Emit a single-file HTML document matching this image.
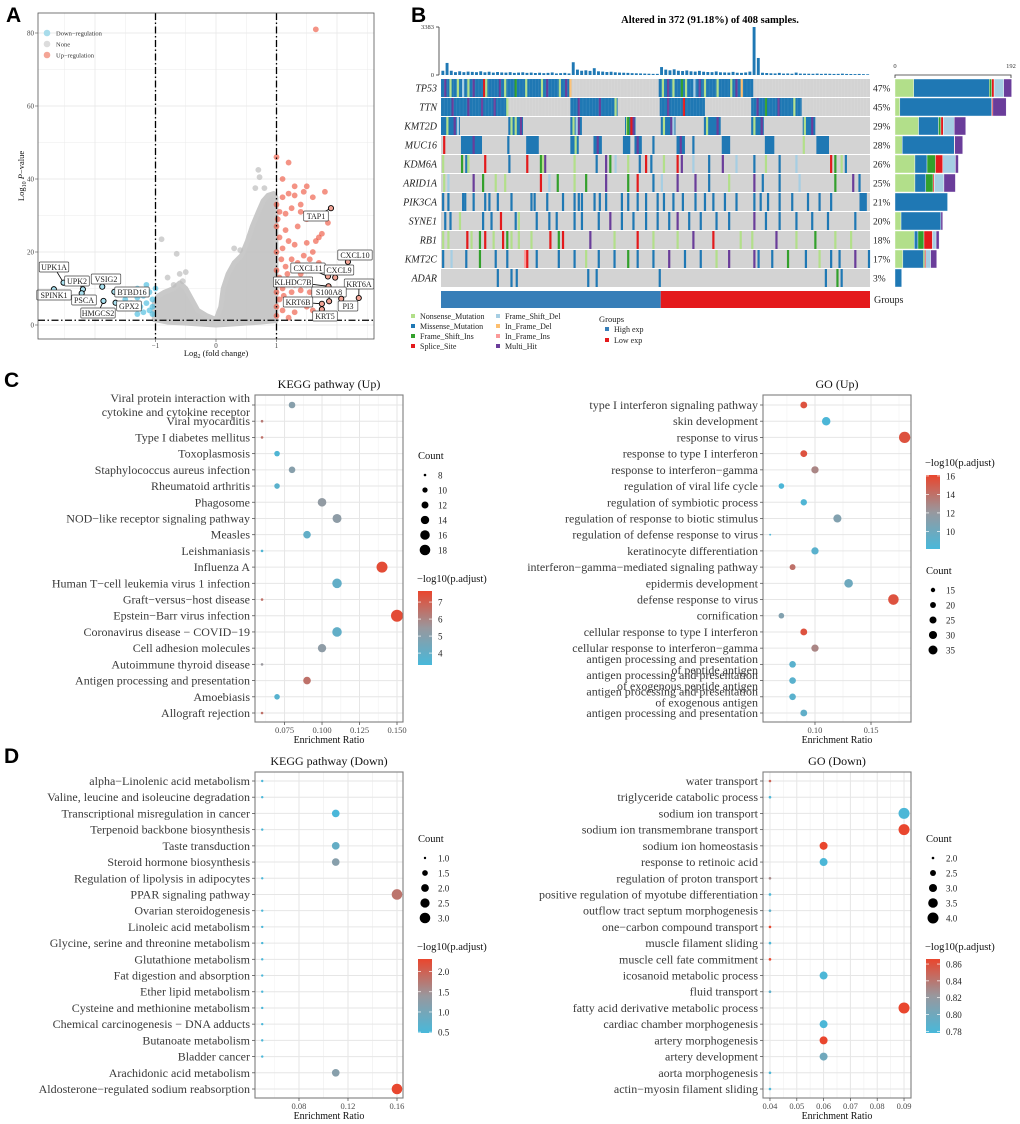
<!DOCTYPE html>
<html><head><meta charset="utf-8">
<style>
html,body{margin:0;padding:0;background:#fff;}
svg{display:block;font-family:"Liberation Serif",serif;}
.pl{font-family:"Liberation Sans",sans-serif;font-weight:bold;font-size:21px;fill:#000;}
</style></head>
<body>
<svg id="fig" width="1020" height="1124" viewBox="0 0 1020 1124" xmlns="http://www.w3.org/2000/svg">
<text class="pl" x="6" y="22">A</text>
<text class="pl" x="411" y="22">B</text>
<text class="pl" x="4" y="387">C</text>
<text class="pl" x="4" y="763">D</text>
<g id="gA"></g>
<g id="gB"></g>
<g id="gC1"></g>
<g id="gC2"></g>
<g id="gD1"></g>
<g id="gD2"></g>
</svg>
<script>
// ---------------- DATA ----------------
const upPts=[[1.65,81],[1.0,46],[1.2,44.5],[1.1,40],[1.3,38],[1.45,36.5],[1.3,35.5],[1.2,36],[1.1,35],[1.0,33],[1.05,31],[1.15,30.5],[1.25,32],[1.4,31],[1.5,29],[1.35,27],[1.15,26],[1.0,27],[1.05,24],[1.2,23],[1.3,22],[1.5,22.5],[1.6,20],[1.45,19],[1.1,21],[1.0,20],[1.25,18],[1.35,17],[1.15,16],[1.0,15],[1.05,13],[1.2,12],[1.4,14],[1.55,12.5],[1.1,10],[1.0,9],[1.25,9],[1.4,9.5],[1.55,9],[1.05,7],[1.2,6],[1.35,6.5],[1.0,5],[1.1,4],[1.3,3.5],[1.5,5],[1.0,2.5],[1.2,2],[1.6,4],[1.7,24],[1.75,25],[1.5,38],[1.4,33],[1.6,35],[1.8,36.5],[1.85,28],[1.65,23],[1.55,18],[1.7,17],[1.02,29],[1.08,18],[1.12,8],[1.02,11],[1.3,11],[1.45,15],[1.18,14]];
const downPts=[[-1.1,9],[-1.2,8],[-1.05,7],[-1.3,7.5],[-1.15,6],[-1.25,5],[-1.05,5],[-1.4,6],[-1.1,4],[-1.2,3.5],[-1.5,7],[-1.35,4.5],[-1.6,5],[-1.0,10],[-1.3,10],[-1.45,9],[-1.15,11],[-1.05,3],[-1.3,3]];
const nonePts=[[-0.9,23.5],[-0.65,19.5],[-0.5,14.5],[-0.6,14],[-0.55,12],[0.7,42.5],[0.72,40.5],[0.8,37.5],[0.65,37.5],[0.3,21],[0.4,20.5],[-0.8,13],[-0.7,11]];
const noneCloud=[[-1.02,1.5],[-1.02,6],[-0.95,8],[-0.85,9],[-0.7,10],[-0.6,11.5],[-0.5,10],[-0.4,7],[-0.3,4],[-0.15,2.5],[0.0,1.5],[0.08,5],[0.12,10],[0.2,14],[0.3,17],[0.42,19],[0.52,23],[0.6,27],[0.7,31],[0.78,34],[0.86,35.5],[0.95,36],[0.99,35],[0.99,1.2],[0.6,0.6],[0.3,0.3],[0.0,0],[-0.4,0.4],[-0.8,0.8]];
const geneLabels=["UPK1A","UPK2","VSIG2","SPINK1","PSCA","BTBD16","GPX2","HMGCS2","TAP1","CXCL10","CXCL11","CXCL9","KLHDC7B","KRT6A","S100A8","KRT6B","PI3","KRT5"];
const geneFC=[-2.52,-2.2,-1.88,-2.68,-2.22,-1.68,-1.66,-1.86,1.9,2.18,1.85,1.97,1.86,2.36,1.87,1.75,2.07,1.75];
const geneP=[11.6,9.8,10.5,9.8,8.7,9.1,6.1,6.6,32,17.3,13.3,13,10.6,7.4,6.5,5.8,7.2,4.3];
const geneUp=[0,0,0,0,0,0,0,0,1,1,1,1,1,1,1,1,1,1];
const geneBox=[[54,267],[77,281],[106,279],[54,295],[84,300],[132,292],[129,306],[98,313],[316,216],[355,255],[308,268],[339,270],[293,282],[359,284],[329,292],[298,302],[348,306],[325,316]];

const genes=["TP53","TTN","KMT2D","MUC16","KDM6A","ARID1A","PIK3CA","SYNE1","RB1","KMT2C","ADAR"];
const pcts=["47%","45%","29%","28%","26%","25%","21%","20%","18%","17%","3%"];
const mutTypes=["Nonsense_Mutation","Missense_Mutation","Frame_Shift_Ins","Splice_Site","Frame_Shift_Del","In_Frame_Del","In_Frame_Ins","Multi_Hit"];
const mutCodes=["n","m","i","s","d","f","r","h"];
const mutColors=["#B2DF8A","#1F78B4","#33A02C","#E31A1C","#A6CEE3","#FDBF6F","#FB9A99","#6A3D9A"];
const mutsTP53="0-123:m,207-296:m,3:h,8:n,15:n,20:d,25:n,30:h,40:s,42:n,55:h,60:n,70:i,80:n,95:n,100:h,112:n,118:h,122:f,210:n,215:h,220:n,228:i,232:n,240:d,245:h,250:n,262:n,275:n,280:h,285:f";
const mutsTTN="0-62:m,123-167:m,208-250:m,295-342:m,10:h,25:h,38:h,50:h,62:n,130:h,150:h,165:n,215:h,230:s,300:h,308:i,320:h,335:n";
const mutsKMT2D="0-17:m,64-77:m,123-133:m,175-184:m,209-222:m,250-265:m,295-306:m,344-355:m,5:n,66:n,70:n,125:n,176:n,211:n,252:n,297:n,345:n,12:h,75:h,130:h,182:h,218:h,262:h,304:h,352:h,15:d,128:d,220:d,180:s,177:i";
const mutsMUC16="19-38:m,81-92:m,123-130:m,145-152:m,173-179:m,184-190:m,224-231:m,267-274:m,308-316:m,357-368:m,63:m,201:m,239:m,344:n,2:s,30:h,148:h,227:h,186:h,127:n";
const mutsKDM6A="1:n,19:i,23:m,25:n,41:s,64:m,81:s,94:i,98:h,126:n,147:m,156:h,165:d,177:n,188:m,194:s,199:m,211:n,224:s,228:h,239:d,254:m,267:h,280:d,297:m,308:n,321:m,337:d,370:s,374:i,380:n,384:m,96:n,160:i";
const mutsARID1A="2:n,6:d,30:h,39:i,51:n,94:s,102:d,126:n,137:i,156:h,177:i,186:s,201:m,209:d,224:h,241:h,254:m,273:n,297:h,305:m,321:m,340:d,374:i,391:h,397:m,60:n,110:i";
const mutsPIK3CA="1:m,6:m,20:m,30:m,41:m,45:m,53:m,66:m,85:m,100:m,115:m,126:m,133:m,145:m,150:m,156:m,171:m,177:m,186:m,194:m,205:m,211:m,220:m,229:m,241:m,250:m,258:m,269:m,280:m,297:m,303:m,310:m,321:m,333:m,348:m,359:m,370:m,398-404:m,22:m,88:m,130:m";
const mutsSYNE1="3:m,8:m,17:n,39:m,47:m,56:s,70:m,73:n,90:m,102:m,109:m,126:m,133:m,149:m,160:h,171:m,182:m,194:m,205:m,216:m,224:h,235:m,246:m,261:m,273:m,297:h,308:m,321:m,337:m,352:m,367:m,393:m";
const mutsRB1="1:n,6:n,24:s,28:n,36:i,41:s,49:n,58:s,62:i,66:n,73:n,85:n,103:s,111:i,115:s,141:h,164:n,186:s,201:n,224:n,239:h,258:s,284:n,295:n,318:h,337:n,355:i,374:n,389:n";
const mutsKMT2C="1:m,9:d,23:m,36:i,51:m,62:m,79:r,81:s,90:m,111:m,126:m,137:n,149:m,164:m,177:i,186:m,201:m,216:h,231:m,246:m,261:n,273:h,297:h,301:m,314:m,329:i,346:m,359:n,370:m,378:m,393:h,406:m";
const mutsADAR="53:m,66:m,71:m,139:m,147:m,207:m,365:m,376:i,380:m";
const geneMuts=[mutsTP53,mutsTTN,mutsKMT2D,mutsMUC16,mutsKDM6A,mutsARID1A,mutsPIK3CA,mutsSYNE1,mutsRB1,mutsKMT2C,mutsADAR];
const geneCounts=[[31,125,4,4,16,0,0,13],[8,152,0,2,0,0,0,22],[39,33,4,4,18,0,0,19],[12,86,0,1,0,0,0,13],[33,20,14,12,21,0,0,5],[33,18,12,2,16,0,0,19],[0,87,0,0,0,0,0,0],[10,66,0,0,0,0,0,3],[32,6,10,14,6,0,0,5],[13,34,2,2,8,0,0,10],[0,11,0,0,0,0,0,0]];
const tmbValues=[300,850,300,200,260,200,240,220,200,260,190,230,170,210,180,170,200,150,170,190,150,170,140,160,130,150,180,110,130,150,110,900,380,300,330,290,480,260,240,210,230,190,170,160,150,130,120,110,100,90,80,80,560,380,330,400,300,280,320,260,240,290,230,210,200,250,190,180,170,220,160,150,180,240,3383,1200,160,140,120,110,150,100,110,90,170,100,95,90,85,100,80,90,85,75,80,95,75,70,65,75,60,50];
const nSamples=408, nHigh=209;

const keggUpTerms=["Viral protein interaction with\ncytokine and cytokine receptor","Viral myocarditis","Type I diabetes mellitus","Toxoplasmosis","Staphylococcus aureus infection","Rheumatoid arthritis","Phagosome","NOD\u2212like receptor signaling pathway","Measles","Leishmaniasis","Influenza A","Human T\u2212cell leukemia virus 1 infection","Graft\u2212versus\u2212host disease","Epstein\u2212Barr virus infection","Coronavirus disease \u2212 COVID\u221219","Cell adhesion molecules","Autoimmune thyroid disease","Antigen processing and presentation","Amoebiasis","Allograft rejection"];
const keggUpRatio=[0.080,0.060,0.060,0.070,0.080,0.070,0.100,0.110,0.090,0.060,0.140,0.110,0.060,0.150,0.110,0.100,0.060,0.090,0.070,0.060];
const keggUpCount=[11.5,8,8,10.3,11.5,10.3,14.4,15,12.8,8,18.8,16,8,21,16,14,8,12.8,10.3,8];
const keggUpPadj=[5.0,6.3,6.5,3.5,5.0,3.8,5.3,5.2,4.0,3.5,7.5,4.0,6.5,7.5,4.0,5.2,5.5,6.5,3.7,6.5];
const goUpTerms=["type I interferon signaling pathway","skin development","response to virus","response to type I interferon","response to interferon\u2212gamma","regulation of viral life cycle","regulation of symbiotic process","regulation of response to biotic stimulus","regulation of defense response to virus","keratinocyte differentiation","interferon\u2212gamma\u2212mediated signaling pathway","epidermis development","defense response to virus","cornification","cellular response to type I interferon","cellular response to interferon\u2212gamma","antigen processing and presentation\nof peptide antigen","antigen processing and presentation\nof exogenous peptide antigen","antigen processing and presentation\nof exogenous antigen","antigen processing and presentation"];
const goUpRatio=[0.09,0.11,0.18,0.09,0.10,0.07,0.09,0.12,0.06,0.10,0.08,0.13,0.17,0.07,0.09,0.10,0.08,0.08,0.08,0.09];
const goUpCount=[24,32,50,24,26,19,22,30,9,26,20,33,45,19,24,26,23,23,23,24];
const goUpPadj=[15.5,8.3,15.5,15.5,13,8.3,8.5,11,8.3,9,14,10,15.5,11,15.5,13,9,9,9,9.3];
const keggDnTerms=["alpha\u2212Linolenic acid metabolism","Valine, leucine and isoleucine degradation","Transcriptional misregulation in cancer","Terpenoid backbone biosynthesis","Taste transduction","Steroid hormone biosynthesis","Regulation of lipolysis in adipocytes","PPAR signaling pathway","Ovarian steroidogenesis","Linoleic acid metabolism","Glycine, serine and threonine metabolism","Glutathione metabolism","Fat digestion and absorption","Ether lipid metabolism","Cysteine and methionine metabolism","Chemical carcinogenesis \u2212 DNA adducts","Butanoate metabolism","Bladder cancer","Arachidonic acid metabolism","Aldosterone\u2212regulated sodium reabsorption"];
const keggDnRatio=[0.05,0.05,0.11,0.05,0.11,0.11,0.05,0.16,0.05,0.05,0.05,0.05,0.05,0.05,0.05,0.05,0.05,0.05,0.11,0.16];
const keggDnCount=[1,1,2,1,2,2,1,3,1,1,1,1,1,1,1,1,1,1,2,3];
const keggDnPadj=[0.5,0.5,0.5,0.5,0.8,1.2,0.5,1.8,0.5,0.5,0.5,0.5,0.5,0.5,0.5,0.5,0.5,0.5,1.2,2.3];
const goDnTerms=["water transport","triglyceride catabolic process","sodium ion transport","sodium ion transmembrane transport","sodium ion homeostasis","response to retinoic acid","regulation of proton transport","positive regulation of myotube differentiation","outflow tract septum morphogenesis","one\u2212carbon compound transport","muscle filament sliding","muscle cell fate commitment","icosanoid metabolic process","fluid transport","fatty acid derivative metabolic process","cardiac chamber morphogenesis","artery morphogenesis","artery development","aorta morphogenesis","actin\u2212myosin filament sliding"];
const goDnRatio=[0.04,0.04,0.09,0.09,0.06,0.06,0.04,0.04,0.04,0.04,0.04,0.04,0.06,0.04,0.09,0.06,0.06,0.06,0.04,0.04];
const goDnCount=[2,2,4,4,3,3,2,2,2,2,2,2,3,2,4,3,3,3,2,2];
const goDnPadj=[0.85,0.78,0.78,0.866,0.866,0.78,0.83,0.78,0.79,0.866,0.78,0.866,0.78,0.79,0.866,0.78,0.866,0.80,0.78,0.78];

// ---------------- HELPERS ----------------
const NS="http://www.w3.org/2000/svg";
function mk(parent,tag,attrs,text){const e=document.createElementNS(NS,tag);for(const k in attrs)e.setAttribute(k,attrs[k]);if(text!==undefined)e.textContent=text;parent.appendChild(e);return e;}
function lerp(a,b,t){return a+(b-a)*t;}
function grad(t){t=Math.max(0,Math.min(1,t));const B=[72,184,218],M=[152,152,158],R=[233,70,46];let c;if(t<0.5){const u=t/0.5;c=B.map((v,i)=>lerp(v,M[i],u));}else{const u=(t-0.5)/0.5;c=M.map((v,i)=>lerp(v,R[i],u));}return `rgb(${c.map(Math.round).join(',')})`;}

// ---------------- PANEL A ----------------
(function(){
const g=document.getElementById('gA');
const L=38,R=374,T=13,B=339;
const sx=v=>216+v*60.5, sy=v=>325-v*3.65;
mk(g,'rect',{x:L,y:T,width:R-L,height:B-T,fill:'#fff'});
for(let v=-2.5;v<=2.5;v+=0.5){mk(g,'line',{x1:sx(v),x2:sx(v),y1:T,y2:B,stroke:'#EBEBEB','stroke-width':Number.isInteger(v)?0.9:0.5});}
for(let v=-10;v<=90;v+=10){if(sy(v)<T||sy(v)>B)continue;mk(g,'line',{x1:L,x2:R,y1:sy(v),y2:sy(v),stroke:'#EBEBEB','stroke-width':v%20===0?0.9:0.5});}
const cl=mk(g,'polygon',{points:noneCloud.map(p=>sx(p[0])+','+sy(p[1])).join(' '),fill:'#C4C4C4',stroke:'#C9C9C9','stroke-width':5,'stroke-linejoin':'round','fill-opacity':0.95});


nonePts.forEach(p=>{const c=mk(g,'circle',{cx:sx(p[0]),cy:sy(p[1]),r:2.9,fill:'#BEBEBE','fill-opacity':0.7});

});
downPts.forEach(p=>{const c=mk(g,'circle',{cx:sx(p[0]),cy:sy(p[1]),r:2.9,fill:'#46BCDE','fill-opacity':0.65});

});
upPts.forEach(p=>{const c=mk(g,'circle',{cx:sx(p[0]),cy:sy(p[1]),r:2.9,fill:'#EC4B33','fill-opacity':0.6});

});
const dash='7,2.5,1.5,2.5';
[-1,1].forEach(v=>mk(g,'line',{x1:sx(v),x2:sx(v),y1:T,y2:B,stroke:'#000','stroke-width':1.3,'stroke-dasharray':dash}));
mk(g,'line',{x1:L,x2:R,y1:sy(1.3),y2:sy(1.3),stroke:'#000','stroke-width':1.3,'stroke-dasharray':dash});
geneLabels.forEach((n,i)=>{
 const px=sx(geneFC[i]),py=sy(geneP[i]);const bx=geneBox[i][0],by=geneBox[i][1];
 mk(g,'line',{x1:px,y1:py,x2:bx,y2:by,stroke:'#000','stroke-width':0.8});
 const c=mk(g,'circle',{cx:px,cy:py,r:2.6,fill:geneUp[i]?'#F4A596':'#A9E1F0',stroke:'#000','stroke-width':0.9});
 
 
 const w=n.length*4.9+5;
 mk(g,'rect',{x:bx-w/2,y:by-5,width:w,height:10,fill:'#fff',stroke:'#444','stroke-width':0.7,rx:1});
 const t=mk(g,'text',{x:bx,y:by+3,'font-size':8,'text-anchor':'middle',fill:'#222'},n);
 
 
});
mk(g,'rect',{x:L,y:T,width:R-L,height:B-T,fill:'none',stroke:'#555','stroke-width':0.8});
[0,20,40,60,80].forEach(v=>{mk(g,'line',{x1:L-3,x2:L,y1:sy(v),y2:sy(v),stroke:'#555','stroke-width':0.6});
 mk(g,'text',{x:L-4,y:sy(v)+2.5,'font-size':7,'text-anchor':'end',fill:'#444'},v);});
[[-1,'\u22121'],[0,'0'],[1,'1']].forEach(a=>{mk(g,'line',{x1:sx(a[0]),x2:sx(a[0]),y1:B,y2:B+3,stroke:'#555','stroke-width':0.6});
 mk(g,'text',{x:sx(a[0]),y:B+9,'font-size':7,'text-anchor':'middle',fill:'#444'},a[1]);});
const xt=mk(g,'text',{x:216,y:356,'font-size':8.5,'text-anchor':'middle',fill:'#111'});
xt.innerHTML='Log<tspan font-size="6" dy="2">2</tspan><tspan dy="-2"> (fold change)</tspan>';


const yt=mk(g,'text',{x:0,y:0,'font-size':8.5,'text-anchor':'middle',fill:'#111',transform:'translate(24,176) rotate(-90)'});
yt.innerHTML='Log<tspan font-size="6" dy="2">10</tspan><tspan dy="-2"> </tspan><tspan font-style="italic">P</tspan>\u2212value';


[['Down\u2212regulation','#A8DCEB'],['None','#DCDCDC'],['Up\u2212regulation','#F4A596']].forEach((a,i)=>{
 mk(g,'circle',{cx:47,cy:33+i*11,r:3.3,fill:a[1]});
 const t=mk(g,'text',{x:56,y:35.5+i*11,'font-size':6.5,fill:'#333'},a[0]);
 
 
});
})();

// ---------------- PANEL B ----------------
(function(){
const g=document.getElementById('gB');
const X0=441,X1=870,Y0=79,P=19,H=18;
const cw=(X1-X0)/nSamples;
const sxs=s=>X0+s*cw;
const t=mk(g,'text',{x:710,y:23,'font-size':10.5,'font-weight':'bold','text-anchor':'middle',fill:'#000'},'Altered in 372 (91.18%) of 408 samples.');


const tmax=3383, by=75, bh=48;
mk(g,'line',{x1:439,x2:439,y1:27,y2:75,stroke:'#333','stroke-width':0.8});
mk(g,'line',{x1:436,x2:439,y1:27,y2:27,stroke:'#333','stroke-width':0.8});
mk(g,'line',{x1:436,x2:439,y1:75,y2:75,stroke:'#333','stroke-width':0.8});
mk(g,'text',{x:434,y:29,'font-size':6.5,'text-anchor':'end',fill:'#333'},'3383');
mk(g,'text',{x:434,y:77,'font-size':6.5,'text-anchor':'end',fill:'#333'},'0');
tmbValues.forEach((v,i)=>{const h=v/tmax*bh;const r=mk(g,'rect',{x:sxs(i*4)+0.4,y:by-h,width:cw*4-1.3,height:h,fill:'#1F78B4'});
 
 });
genes.forEach((gn,gi)=>{
 const y=Y0+gi*P;
 const bg=mk(g,'rect',{x:X0,y:y,width:X1-X0,height:H,fill:'#D3D3D3'});
 
 
 geneMuts[gi].split(',').forEach(tok=>{
  const [rng,code]=tok.split(':');const parts=rng.split('-').map(Number);
  const s0=parts[0],s1=parts.length>1?parts[1]:parts[0];
  const w=parts.length>1?(s1-s0+1)*cw:Math.max(2.2,cw*1.8);
  const r=mk(g,'rect',{x:sxs(s0),y:y,width:w,height:H,fill:mutColors[mutCodes.indexOf(code)]});
  
  
 });
 if(gi<2){
  for(let s=0;s<nSamples;s+=3){mk(g,'line',{x1:sxs(s),x2:sxs(s),y1:y,y2:y+H,stroke:'#ffffff','stroke-opacity':0.18,'stroke-width':0.4});}
 }
 const lab=mk(g,'text',{x:437,y:y+H/2+3.5,'font-size':10,'font-style':'italic','text-anchor':'end',fill:'#222'},gn);
 
 
 const pc=mk(g,'text',{x:873,y:y+H/2+3.5,'font-size':9.5,fill:'#222'},pcts[gi]);
 
 
 const RX0=895,RW=116,cmax=192;let acc=0;
 geneCounts[gi].forEach((c,ti)=>{if(!c)return;const r=mk(g,'rect',{x:RX0+acc/cmax*RW,y:y,width:c/cmax*RW,height:H,fill:mutColors[ti],stroke:'#fff','stroke-width':0.4});
  
  acc+=c;});
});
mk(g,'path',{d:'M895,78 V75 H1011 V78',fill:'none',stroke:'#333','stroke-width':0.8});
mk(g,'text',{x:895,y:68,'font-size':6.5,'text-anchor':'middle',fill:'#333'},'0');
mk(g,'text',{x:1011,y:68,'font-size':6.5,'text-anchor':'middle',fill:'#333'},'192');
const gy=291;
const hb=mk(g,'rect',{x:X0,y:gy,width:nHigh*cw,height:17,fill:'#377EB8'});


const lb=mk(g,'rect',{x:X0+nHigh*cw,y:gy,width:(nSamples-nHigh)*cw,height:17,fill:'#E41A1C'});


mk(g,'text',{x:874,y:303,'font-size':10,fill:'#222'},'Groups');
[0,1,2,3,4,5,6,7].forEach((ti,k)=>{const col=k<4?0:1,row=k%4;const x=col?496:411,y=317+row*10;
 mk(g,'rect',{x:x,y:y-3,width:4,height:4,fill:mutColors[ti]});
 const t=mk(g,'text',{x:x+9,y:y+2,'font-size':8,fill:'#222'},mutTypes[ti]);
 
 });
mk(g,'text',{x:599,y:322,'font-size':8.5,fill:'#222'},'Groups');
[['High exp','#377EB8'],['Low exp','#E41A1C']].forEach((a,i)=>{mk(g,'rect',{x:605,y:327+i*11,width:4,height:4,fill:a[1]});
 const t=mk(g,'text',{x:614,y:332+i*11,'font-size':8,fill:'#222'},a[0]);
 
 });
})();

// ---------------- DOT PANELS ----------------
function dotPanel(o){
 const g=document.getElementById(o.id);
 const {L,R,T,B}=o;
 const n=o.terms.length;
 const sx=v=>L+(v-o.xmin)/(o.xmax-o.xmin)*(R-L);
 const rowY=i=>o.y0+i*(o.y1-o.y0)/(n-1);
 const rad=c=>{const t=(c-o.cmin)/(o.cmax-o.cmin);return Math.sqrt(Math.max(0.9,o.rmin*o.rmin+(o.rmax*o.rmax-o.rmin*o.rmin)*t));};
 mk(g,'rect',{x:L,y:T,width:R-L,height:B-T,fill:'#fff'});
 for(let k=0;k<o.ticks.length;k++){const a=o.ticks[k];const step=o.ticks.length>1?o.ticks[1]-o.ticks[0]:0.05;
  [a-step/2,a+step/2].forEach(v=>{if(v>o.xmin&&v<o.xmax)mk(g,'line',{x1:sx(v),x2:sx(v),y1:T,y2:B,stroke:'#F2F2F2','stroke-width':0.6});});}
 o.ticks.forEach(v=>mk(g,'line',{x1:sx(v),x2:sx(v),y1:T,y2:B,stroke:'#E6E6E6','stroke-width':1}));
 for(let i=0;i<n;i++)mk(g,'line',{x1:L,x2:R,y1:rowY(i),y2:rowY(i),stroke:'#E6E6E6','stroke-width':1});
 for(let i=0;i<n;i++){
  const c=mk(g,'circle',{cx:sx(o.ratio[i]),cy:rowY(i),r:rad(o.count[i]),fill:grad((o.padj[i]-o.pmin)/(o.pmax-o.pmin))});
  
  
 }
 mk(g,'rect',{x:L,y:T,width:R-L,height:B-T,fill:'none',stroke:'#7F7F7F','stroke-width':1.1});
 for(let i=0;i<n;i++){
  const y=rowY(i);
  mk(g,'line',{x1:L-3,x2:L,y1:y,y2:y,stroke:'#555','stroke-width':0.8});
  const lines=o.terms[i].split('\n');
  lines.forEach((ln,k)=>{
   const yy=y+4+(k-(lines.length-1)/2)*o.lh;
   const t=mk(g,'text',{x:L-5,y:yy,'font-size':o.fs,'text-anchor':'end',fill:'#3A3A3A'},ln);
   
   
  });
 }
 o.ticks.forEach((v,k)=>{mk(g,'line',{x1:sx(v),x2:sx(v),y1:B,y2:B+3,stroke:'#555','stroke-width':0.8});
  mk(g,'text',{x:sx(v),y:B+11,'font-size':8.5,'text-anchor':'middle',fill:'#4D4D4D'},o.tickLabels[k]);});
 const xt=mk(g,'text',{x:(L+R)/2,y:B+21,'font-size':10,'text-anchor':'middle',fill:'#111'},'Enrichment Ratio');
 
 
 const tt=mk(g,'text',{x:(L+R)/2,y:T-7,'font-size':12,'text-anchor':'middle',fill:'#111'},o.title);
 
 
 const cl=o.countLeg;
 mk(g,'text',{x:cl.x,y:cl.y,'font-size':10.5,fill:'#111'},'Count');
 cl.vals.forEach((v,k)=>{const y=cl.y+16+k*15;
  mk(g,'circle',{cx:cl.x+7,cy:y,r:rad(v),fill:'#000'});
  const t=mk(g,'text',{x:cl.x+20,y:y+3.5,'font-size':9,fill:'#222'},cl.labels[k]);
  
  });
 const cb=o.colLeg;const gid=o.id+'grad';
 const defs=mk(g,'defs',{});const lg=mk(defs,'linearGradient',{id:gid,x1:0,y1:1,x2:0,y2:0});
 for(let k=0;k<=10;k++)mk(lg,'stop',{offset:k/10,'stop-color':grad(k/10)});
 mk(g,'text',{x:cb.x-1,y:cb.y-9,'font-size':10.5,fill:'#111'},'\u2212log10(p.adjust)');
 const bar=mk(g,'rect',{x:cb.x,y:cb.y,width:14,height:cb.h,fill:`url(#${gid})`});
 
 
 cb.vals.forEach((v,k)=>{const y=cb.y+cb.h-(v-o.pmin)/(o.pmax-o.pmin)*cb.h;
  mk(g,'line',{x1:cb.x,x2:cb.x+3,y1:y,y2:y,stroke:'#fff','stroke-width':0.7});
  mk(g,'line',{x1:cb.x+11,x2:cb.x+14,y1:y,y2:y,stroke:'#fff','stroke-width':0.7});
  mk(g,'text',{x:cb.x+20,y:y+3.5,'font-size':9,fill:'#222'},cb.labels[k]);});
}

dotPanel({id:'gC1',L:255,R:403,T:395,B:722,y0:405,y1:713,xmin:0.0553,xmax:0.154,
 ticks:[0.075,0.1,0.125,0.15],tickLabels:['0.075','0.100','0.125','0.150'],
 terms:keggUpTerms,ratio:keggUpRatio,count:keggUpCount,padj:keggUpPadj,
 cmin:8,cmax:18,rmin:1.3,rmax:5.3,pmin:3.3,pmax:7.65,fs:12,lh:14,title:'KEGG pathway (Up)',
 countLeg:{x:418,y:459,vals:[8,10,12,14,16,18],labels:['8','10','12','14','16','18']},
 colLeg:{x:418,y:591,h:74,vals:[7,6,5,4],labels:['7','6','5','4']}});
dotPanel({id:'gC2',L:763,R:911,T:395,B:722,y0:405,y1:713,xmin:0.0536,xmax:0.1857,
 ticks:[0.1,0.15],tickLabels:['0.10','0.15'],
 terms:goUpTerms,ratio:goUpRatio,count:goUpCount,padj:goUpPadj,
 cmin:15,cmax:35,rmin:2.2,rmax:4.5,pmin:8.1,pmax:16.1,fs:12,lh:11,title:'GO (Up)',
 countLeg:{x:926,y:574,vals:[15,20,25,30,35],labels:['15','20','25','30','35']},
 colLeg:{x:926,y:475,h:74,vals:[16,14,12,10],labels:['16','14','12','10']}});
dotPanel({id:'gD1',L:255,R:403,T:772,B:1098,y0:781,y1:1089,xmin:0.0441,xmax:0.1649,
 ticks:[0.08,0.12,0.16],tickLabels:['0.08','0.12','0.16'],
 terms:keggDnTerms,ratio:keggDnRatio,count:keggDnCount,padj:keggDnPadj,
 cmin:1,cmax:3,rmin:1.2,rmax:5.3,pmin:0.48,pmax:2.31,fs:12,lh:12,title:'KEGG pathway (Down)',
 countLeg:{x:418,y:842,vals:[1,1.5,2,2.5,3],labels:['1.0','1.5','2.0','2.5','3.0']},
 colLeg:{x:418,y:959,h:74,vals:[2,1.5,1,0.5],labels:['2.0','1.5','1.0','0.5']}});
dotPanel({id:'gD2',L:763,R:911,T:772,B:1098,y0:781,y1:1089,xmin:0.0374,xmax:0.0926,
 ticks:[0.04,0.05,0.06,0.07,0.08,0.09],tickLabels:['0.04','0.05','0.06','0.07','0.08','0.09'],
 terms:goDnTerms,ratio:goDnRatio,count:goDnCount,padj:goDnPadj,
 cmin:2,cmax:4,rmin:1.3,rmax:5.5,pmin:0.778,pmax:0.866,fs:12,lh:12,title:'GO (Down)',
 countLeg:{x:926,y:842,vals:[2,2.5,3,3.5,4],labels:['2.0','2.5','3.0','3.5','4.0']},
 colLeg:{x:926,y:959,h:74,vals:[0.86,0.84,0.82,0.80,0.78],labels:['0.86','0.84','0.82','0.80','0.78']}});
</script>
</body></html>
